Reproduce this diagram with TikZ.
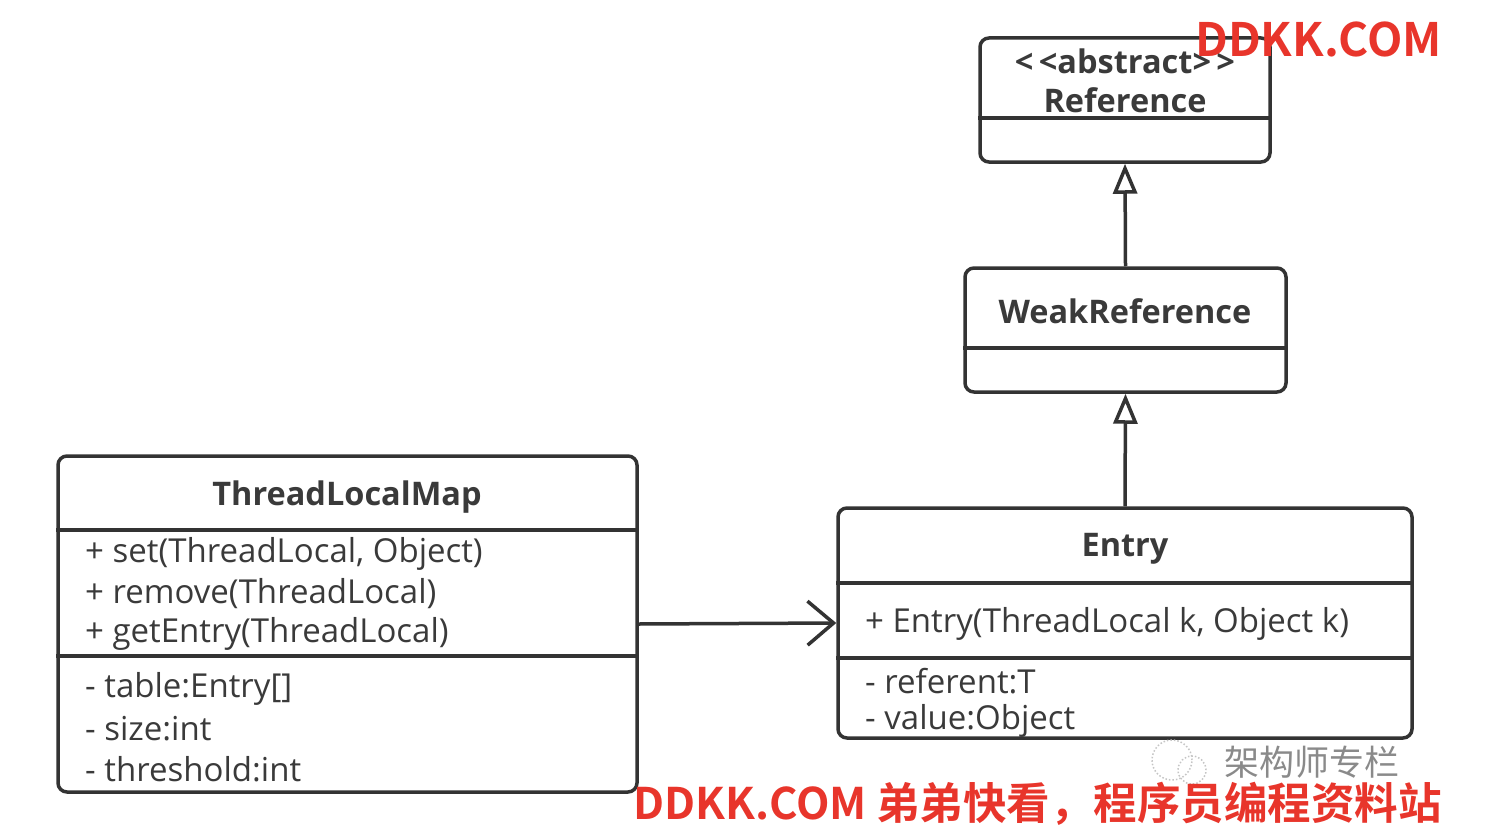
\documentclass[tikz,border=0pt]{standalone}
\usepackage{fontspec}
\setmainfont{Open Sans}
\newfontfamily\cjk{Noto Sans CJK SC}[BoldFont={Noto Sans CJK SC Bold}]
\usetikzlibrary{arrows.meta}

\definecolor{linegray}{HTML}{333333}
\definecolor{textgray}{HTML}{3A3A3A}
\definecolor{markred}{HTML}{E8352B}
\definecolor{markgray}{HTML}{8A8A8A}

\tikzset{
  classbox/.style={draw=linegray, line width=3.5pt, rounded corners=9pt, inner sep=0pt},
  classname/.style={font=\bfseries\fontsize{32.5}{38}\selectfont, text=textgray},
  member/.style={font=\fontsize{33}{38}\selectfont, text=textgray, anchor=west, inner sep=0pt},
  divider/.style={draw=linegray, line width=3.5pt},
  inherit/.style={draw=linegray, line width=3.5pt, -{Triangle[open, length=30pt, width=24pt]}},
  assoc/.style={draw=linegray, line width=3.5pt, -{Straight Barb[length=26pt, width=44pt]}},
  redmark/.style={font=\cjk\bfseries\fontsize{43.5}{50}\selectfont, text=markred, inner sep=0pt},
}

\begin{document}
\begin{tikzpicture}[x=1pt, y=-1pt]
  \useasboundingbox (0,0) rectangle (1496,840);

  % class boxes
  \node[classbox, minimum width=290pt, minimum height=124pt] (abstractref) at (1125,100) {};
  \node[classbox, minimum width=321pt, minimum height=124pt] (weakref) at (1125.5,330) {};
  \node[classbox, minimum width=574pt, minimum height=230pt] (entry) at (1125,623) {};
  \node[classbox, minimum width=579pt, minimum height=336pt] (tlm) at (347.5,624) {};

  % compartments
  \draw[divider] (abstractref.west |- 0,118) -- (abstractref.east |- 0,118);
  \draw[divider] (weakref.west |- 0,348) -- (weakref.east |- 0,348);
  \draw[divider] (entry.west |- 0,583) -- (entry.east |- 0,583);
  \draw[divider] (entry.west |- 0,658) -- (entry.east |- 0,658);
  \draw[divider] (tlm.west |- 0,530) -- (tlm.east |- 0,530);
  \draw[divider] (tlm.west |- 0,656) -- (tlm.east |- 0,656);

  % names
  \node[classname] (stereo) at (1125,61) {<\,<abstract>\,>};
  \node[classname] (refname) at (1125,100) {Reference};
  \node[classname] (weakname) at (1125,311) {WeakReference};
  \node[classname] (entryname) at (1125,549) {Entry};
  \node[classname] (tlmname) at (347,497) {ThreadLocalMap};

  % members
  \node[member] (entryctor) at (865,624) {+ Entry(ThreadLocal k, Object k)};
  \node[member] (referent) at (865,681) {- referent:T};
  \node[member] (value) at (865,721) {- value:Object};
  \node[member] (setop) at (85,554) {+ set(ThreadLocal, Object)};
  \node[member] (removeop) at (85,594) {+ remove(ThreadLocal)};
  \node[member] (getop) at (85,634) {+ getEntry(ThreadLocal)};
  \node[member] (table) at (85,689) {- table:Entry[]};
  \node[member] (size) at (85,729) {- size:int};
  \node[member] (threshold) at (85,769) {- threshold:int};

  % relations
  \draw[inherit] (entry.north) -- (weakref.south);
  \draw[inherit] (weakref.north) -- (abstractref.south);
  \draw[assoc] (tlm.east) -- (entry.west);

  % marks
  \draw[markgray!50, line width=1.5pt, dotted] (1172,760) circle (20pt);
  \draw[markgray!50, line width=1.5pt, dotted] (1192,770) circle (14pt);
  \node[font=\cjk\fontsize{35}{40}\selectfont, text=markgray, anchor=west, inner sep=0pt] (column) at (1224,762) {架构师专栏};
  \node[redmark, font=\cjk\bfseries\fontsize{46}{52}\selectfont, anchor=west] (topmark) at (1195,39) {DDKK.COM};
  \node[redmark, anchor=west] (bottommark) at (633,804) {DDKK.COM 弟弟快看，程序员编程资料站};
\end{tikzpicture}
\end{document}
